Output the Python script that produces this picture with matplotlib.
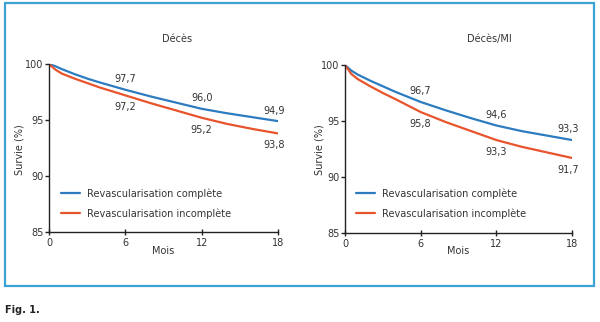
import matplotlib
matplotlib.use("Agg")
import matplotlib.pyplot as plt
from matplotlib.patches import Rectangle

months = [0, 0.5, 1, 2, 3, 4, 6, 8, 10, 12, 14, 16, 18]
deces_complete = [100, 99.8, 99.55, 99.1, 98.7, 98.35, 97.7, 97.1, 96.55, 96.0, 95.6, 95.25, 94.9]
deces_incomplete = [100, 99.5, 99.15, 98.7, 98.3, 97.9, 97.2, 96.5, 95.85, 95.2, 94.65, 94.2, 93.8]
mi_complete = [100, 99.5, 99.15, 98.6, 98.1, 97.6, 96.7, 95.95, 95.25, 94.6, 94.1, 93.7, 93.3]
mi_incomplete = [100, 99.2, 98.75, 98.1, 97.5, 96.95, 95.8, 94.9, 94.1, 93.3, 92.7, 92.2, 91.7]

label_months = [6, 12, 18]
deces_complete_labels = ["97,7", "96,0", "94,9"]
deces_incomplete_labels = ["97,2", "95,2", "93,8"]
mi_complete_labels = ["96,7", "94,6", "93,3"]
mi_incomplete_labels = ["95,8", "93,3", "91,7"]

titles = ["Décès", "Décès/MI"]
legend_labels = ["Revascularisation complète", "Revascularisation incomplète"]
xticks = [0, 6, 12, 18]
yticks = [85, 90, 95, 100]

BLUE = "#2d7cc0"
RED = "#e8542c"
TXT = "#333333"
W, H = 600, 322

fig = plt.figure(figsize=(6.0, 3.22), dpi=100)
fig.patch.set_facecolor("white")
plt.rcParams["font.family"] = ["DejaVu Sans"]

fig.add_artist(Rectangle((5 / W, 1 - 286 / H), 589 / W, 283 / H, transform=fig.transFigure,
                         fill=False, edgecolor="#3ba3d3", linewidth=1.6))


def px_axes(x0, x1, y0, y1):
    return fig.add_axes([x0 / W, 1 - y1 / H, (x1 - x0) / W, (y1 - y0) / H])


panels = [
    (px_axes(49, 278, 64, 232), deces_complete, deces_incomplete,
     deces_complete_labels, deces_incomplete_labels, 177, 20, 61),
    (px_axes(345, 572, 65, 233), mi_complete, mi_incomplete,
     mi_complete_labels, mi_incomplete_labels, 489, 319, 356),
]

for i, (ax, comp, incomp, clab, ilab, tx, ylx, legx) in enumerate(panels):
    ax.plot(months, comp, color=BLUE, lw=1.6, label=legend_labels[0], solid_capstyle="round")
    ax.plot(months, incomp, color=RED, lw=1.6, label=legend_labels[1], solid_capstyle="round")
    ax.set_xlim(0, 18)
    ax.set_ylim(85, 100)
    ax.set_xticks(xticks)
    ax.set_yticks(yticks)
    ax.set_xticklabels([str(t) for t in xticks])
    ax.set_yticklabels([str(t) for t in yticks])
    for s in ["top", "right"]:
        ax.spines[s].set_visible(False)
    for s in ["left", "bottom"]:
        ax.spines[s].set_linewidth(1.0)
        ax.spines[s].set_color("#222222")
    ax.tick_params(axis="y", direction="out", length=3, width=1, labelsize=7, colors="#222222",
                   labelcolor=TXT, pad=1)
    ax.tick_params(axis="x", direction="inout", length=5, width=1, labelsize=7, colors="#222222",
                   labelcolor=TXT, pad=2)
    ax.set_facecolor("none")
    for m, lab in zip(label_months, clab):
        idx = months.index(m)
        dx = -3 if m == 18 else 0
        ax.annotate(lab, (m, comp[idx]), xytext=(dx, 4), textcoords="offset points",
                    ha="center", va="bottom", fontsize=7, color=TXT)
    for m, lab in zip(label_months, ilab):
        idx = months.index(m)
        dx = -3 if m == 18 else 0
        ax.annotate(lab, (m, incomp[idx]), xytext=(dx, -5), textcoords="offset points",
                    ha="center", va="top", fontsize=7, color=TXT)
    leg = ax.legend(loc="center left", bbox_to_anchor=(legx / W, 1 - 203.5 / H),
                    bbox_transform=fig.transFigure, frameon=False, fontsize=7,
                    handlelength=1.95, handletextpad=0.7, labelspacing=0.95,
                    borderaxespad=0, borderpad=0)
    for t in leg.get_texts():
        t.set_color(TXT)
    fig.text(tx / W, 1 - 39 / H, titles[i], ha="center", va="center", fontsize=7, color=TXT)
    fig.text(ylx / W, 1 - 150 / H, "Survie (%)", rotation=90, ha="center", va="center",
             fontsize=7, color=TXT)
    cx = (ax.get_position().x0 + ax.get_position().x1) / 2
    fig.text(cx, 1 - 251 / H, "Mois", ha="center", va="center", fontsize=7, color=TXT)

fig.text(5 / W, 1 - 310 / H, "Fig. 1.", ha="left", va="center", fontsize=7, fontweight="bold",
         color="#222222")

fig.savefig("out.png", dpi=100, facecolor="white")
